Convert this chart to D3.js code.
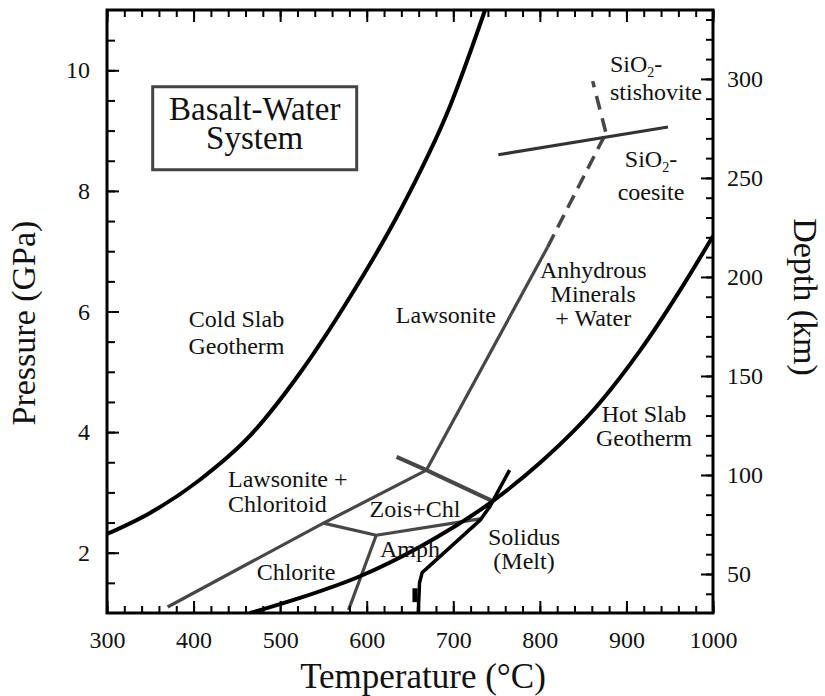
<!DOCTYPE html>
<html>
<head>
<meta charset="utf-8">
<script src="https://cdn.jsdelivr.net/npm/d3@7"></script>
<style>
  body { margin: 0; background: #fff; }
  text { font-family: "Liberation Serif", "Times New Roman", serif; fill: #111; }
</style>
</head>
<body>
<div id="viz"></div>
<script>
// ---- data (temperature in °C, pressure in GPa) ----
var tempTicks = [300, 400, 500, 600, 700, 800, 900, 1000];
var pressureTicks = [2, 4, 6, 8, 10];
var depthTicks = [50, 100, 150, 200, 250, 300];

var coldSlab = [[300, 2.31], [349.7, 2.66], [407.4, 3.21], [465.2, 3.94], [522.9, 4.98],
                [580.7, 6.24], [638.5, 7.67], [696.3, 9.41], [736.7, 11.0]];
var hotSlab = [[465.2, 1.0], [522.9, 1.25], [592.2, 1.61], [661.6, 2.10], [745.9, 2.86],
               [800.2, 3.49], [869.5, 4.49], [915.7, 5.35], [961.9, 6.35], [1000, 7.25]];
var solidus = [[765, 3.37], [742, 2.76], [731, 2.54], [664, 1.67], [661, 1.5], [659.5, 1.0]];
var solidusBlob = [[655.7, 1.18], [655.7, 1.41]];

var chloriteOut = [[370, 1.1], [550, 2.49], [669, 3.37]];
var lawsoniteSolid = [[669, 3.37], [809, 7.07]];
var lawsoniteDash = [[809, 7.07], [876, 8.95]];
var lawsoniteDashUpper = [[876, 8.98], [861, 9.82]];
var lawsoniteOut = [[634.5, 3.59], [669, 3.37], [746, 2.85]];
var zoisLeft = [[550, 2.49], [611, 2.29]];
var zoisBottom = [[611, 2.29], [731, 2.56]];
var amphLine = [[611, 2.29], [579, 1.05]];
var coesiteLine = [[752, 8.6], [948, 9.06]];

var regionLabels = [
  { lines: ["Cold Slab", "Geotherm"], t: 449.6, p: 5.74, anchor: "middle", lh: 27 },
  { lines: ["Lawsonite"], t: 691.4, p: 5.81, anchor: "middle", lh: 0 },
  { lines: ["Anhydrous", "Minerals", "+ Water"], t: 861.7, p: 6.55, anchor: "middle", lh: 24 },
  { lines: ["SiO2-", "stishovite"], t: 881, p: 9.98, anchor: "start", lh: 28 },
  { lines: ["SiO2-", "coesite"], t: 928.4, p: 8.40, anchor: "middle", lh: 33 },
  { lines: ["Hot Slab", "Geotherm"], t: 920.3, p: 4.17, anchor: "middle", lh: 24 },
  { lines: ["Lawsonite +", "Chloritoid"], t: 439.8, p: 3.09, anchor: "start", lh: 25 },
  { lines: ["Zois+Chl"], t: 655.8, p: 2.60, anchor: "middle", lh: 0 },
  { lines: ["Amph"], t: 650, p: 1.93, anchor: "middle", lh: 0 },
  { lines: ["Chlorite"], t: 518.3, p: 1.55, anchor: "middle", lh: 0 },
  { lines: ["Solidus", "(Melt)"], t: 781.7, p: 2.13, anchor: "middle", lh: 24 }
];
var titleLines = ["Basalt-Water", "System"];
var titlePos = [470.6, 9.18];

var width = 825, height = 696,
    margin = { left: 107, top: 10, right: 112, bottom: 83 };
var serif = "'Liberation Serif', 'Times New Roman', serif";

var x = d3.scaleLinear().domain([300, 1000]).range([margin.left, width - margin.right]);
var y = d3.scaleLinear().domain([1, 11]).range([height - margin.bottom, margin.top]);
var depth = d3.scaleLinear().domain([30.3, 334.8]).range([height - margin.bottom, margin.top]);

var svg = d3.select("#viz").append("svg")
  .attr("width", width)
  .attr("height", height);

var line = d3.line().x(function(d) { return x(d[0]); }).y(function(d) { return y(d[1]); });
var smooth = d3.line().curve(d3.curveMonotoneX)
  .x(function(d) { return x(d[0]); }).y(function(d) { return y(d[1]); });

var plot = svg.append("g");
plot.append("clipPath").attr("id", "clip").append("rect")
  .attr("x", x(300)).attr("y", y(11)).attr("width", x(1000) - x(300)).attr("height", y(1) - y(11));

// grey phase boundaries
var grey = "#474747";
[chloriteOut, lawsoniteSolid, zoisLeft, zoisBottom, amphLine].forEach(function(seg) {
  plot.append("path").attr("d", line(seg)).attr("fill", "none")
    .attr("stroke", grey).attr("stroke-width", 3.2);
});
plot.append("path").attr("d", line(lawsoniteOut)).attr("fill", "none")
  .attr("stroke", grey).attr("stroke-width", 4.2);
plot.append("path").attr("d", line(lawsoniteDash)).attr("fill", "none")
  .attr("stroke", grey).attr("stroke-width", 3.5).attr("stroke-dasharray", "14,8");
plot.append("path").attr("d", line(lawsoniteDashUpper)).attr("fill", "none")
  .attr("stroke", grey).attr("stroke-width", 3.5).attr("stroke-dasharray", "14,9");
plot.append("path").attr("d", line(coesiteLine)).attr("fill", "none")
  .attr("stroke", "#333").attr("stroke-width", 3.2);

// black curves
[coldSlab, hotSlab].forEach(function(c) {
  plot.append("path").attr("d", smooth(c)).attr("fill", "none")
    .attr("clip-path", "url(#clip)")
    .attr("stroke", "#000").attr("stroke-width", 4);
});
plot.append("path").attr("d", line(solidus)).attr("fill", "none")
  .attr("stroke", "#000").attr("stroke-width", 3.5).attr("stroke-linejoin", "round");
plot.append("path").attr("d", line(solidusBlob)).attr("fill", "none")
  .attr("stroke", "#000").attr("stroke-width", 5);

// title box
var tb = svg.append("g");
tb.append("rect")
  .attr("x", x(titlePos[0]) - 102).attr("y", y(titlePos[1]) - 33)
  .attr("width", 204).attr("height", 83)
  .attr("fill", "none").attr("stroke", "#444").attr("stroke-width", 3);
var tt = tb.append("text").attr("text-anchor", "middle").style("font-size", "33px");
titleLines.forEach(function(t, i) {
  tt.append("tspan").attr("x", x(titlePos[0])).attr("y", y(titlePos[1]) + i * 29).text(t);
});

// region labels
regionLabels.forEach(function(l) {
  l.lines.forEach(function(s, i) {
    var t = svg.append("text")
      .attr("x", x(l.t)).attr("y", y(l.p) + i * l.lh)
      .attr("text-anchor", l.anchor).style("font-size", "24px");
    if (s.indexOf("SiO2") === 0) {
      t.append("tspan").text("SiO");
      t.append("tspan").attr("dy", 5).style("font-size", "14px").text("2");
      t.append("tspan").attr("dy", -5).text("-");
    } else {
      t.text(s);
    }
  });
});

// axes
function minorTicks(a, b, step) { return d3.range(a, b + 0.001, step); }
var bottom = height - margin.bottom, right = width - margin.right;

svg.append("g").attr("transform", "translate(0," + bottom + ")")
  .call(d3.axisBottom(x).tickValues(minorTicks(300, 1000, 20)).tickSize(-7).tickFormat(""));
svg.append("g").attr("transform", "translate(0," + bottom + ")")
  .call(d3.axisBottom(x).tickValues(tempTicks).tickSize(-12).tickPadding(18).tickFormat(d3.format("d")));
svg.append("g").attr("transform", "translate(0," + margin.top + ")")
  .call(d3.axisTop(x).tickValues(minorTicks(300, 1000, 20)).tickSize(-7).tickFormat(""));
svg.append("g").attr("transform", "translate(0," + margin.top + ")")
  .call(d3.axisTop(x).tickValues(tempTicks).tickSize(-12).tickFormat(""));

svg.append("g").attr("transform", "translate(" + margin.left + ",0)")
  .call(d3.axisLeft(y).tickValues(minorTicks(1.5, 10.5, 0.5)).tickSize(-8).tickFormat(""));
svg.append("g").attr("transform", "translate(" + margin.left + ",0)")
  .call(d3.axisLeft(y).tickValues(pressureTicks).tickSize(-12).tickPadding(17).tickFormat(d3.format("d")));

svg.append("g").attr("transform", "translate(" + right + ",0)")
  .call(d3.axisRight(depth).tickValues(minorTicks(40, 330, 10)).tickSize(-7).tickFormat(""));
svg.append("g").attr("transform", "translate(" + right + ",0)")
  .call(d3.axisRight(depth).tickValues(depthTicks).tickSize(-12).tickPadding(14).tickFormat(d3.format("d")));

svg.selectAll(".domain").remove();
svg.selectAll("g[font-family]").attr("font-family", serif).attr("font-size", 24);
svg.selectAll(".tick line").attr("stroke", "#000").attr("stroke-width", 2);
svg.selectAll(".tick text").style("font-size", "24px")
  .style("font-family", serif).attr("fill", "#111");

svg.append("rect")
  .attr("x", margin.left).attr("y", margin.top)
  .attr("width", right - margin.left).attr("height", bottom - margin.top)
  .attr("fill", "none").attr("stroke", "#000").attr("stroke-width", 3);

// axis titles
svg.append("text").attr("x", 423).attr("y", 688).attr("text-anchor", "middle")
  .style("font-size", "35px").text("Temperature (°C)");
svg.append("text").attr("transform", "translate(35,323) rotate(-90)").attr("text-anchor", "middle")
  .style("font-size", "34px").text("Pressure (GPa)");
svg.append("text").attr("transform", "translate(794,297) rotate(90)").attr("text-anchor", "middle")
  .style("font-size", "34px").text("Depth (km)");
</script>
</body>
</html>
